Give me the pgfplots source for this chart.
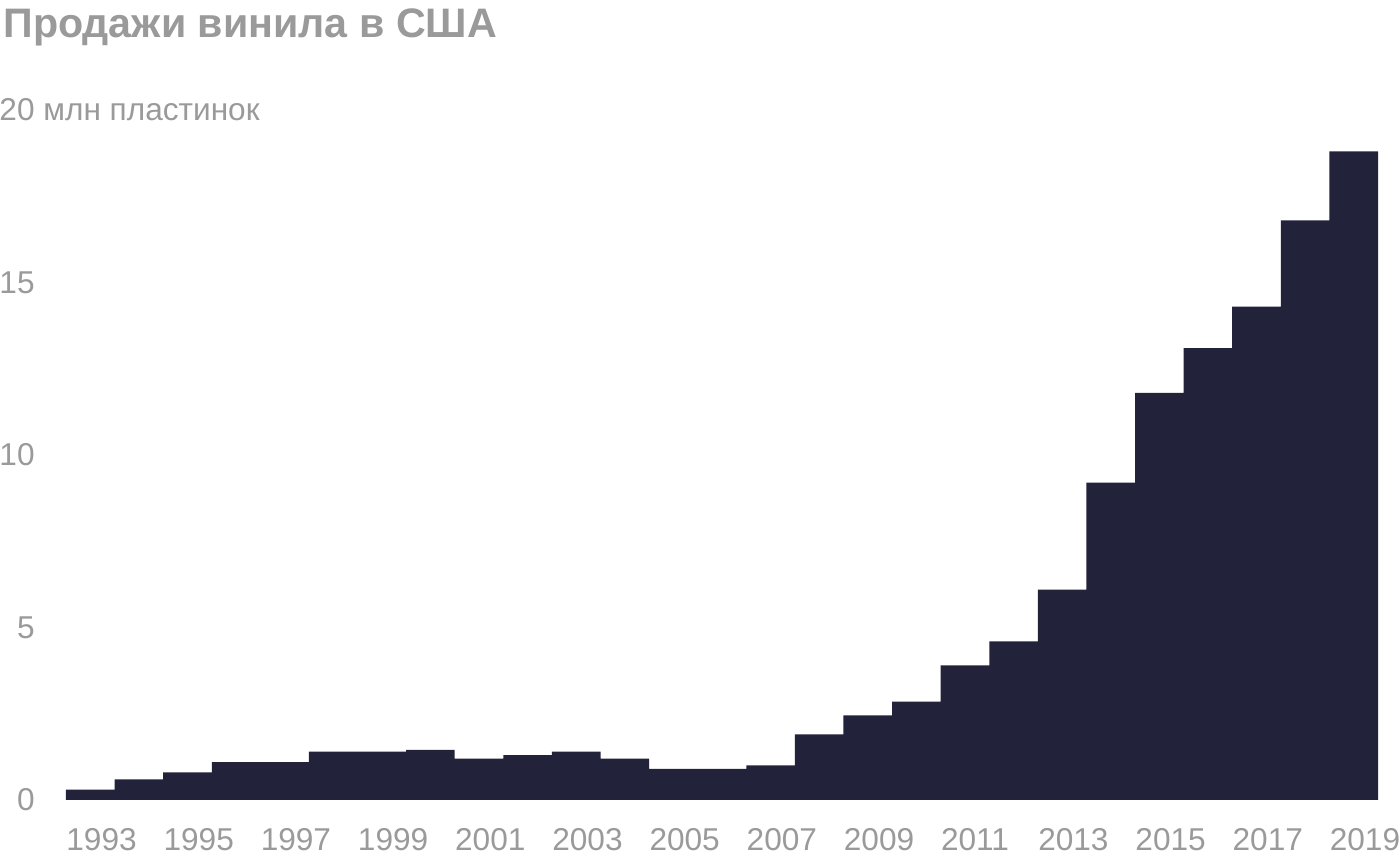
\documentclass[border=0pt]{standalone}
\usepackage{fontspec}
\setmainfont{Liberation Sans}
\usepackage{pgfplots}
\pgfplotsset{compat=1.18}
\definecolor{bar}{HTML}{22223A}
\definecolor{txt}{HTML}{9A9A9A}
\begin{document}
\begin{tikzpicture}
\useasboundingbox (-33pt,-30pt) rectangle (667pt,400pt);
\begin{axis}[
scale only axis,
width=656pt, height=345pt,
xmin=1993, xmax=2020,
ymin=0, ymax=20,
axis line style={draw=none},
major tick length=0pt,
ytick={0,5,10,15,20},
yticklabels={0,5,10,15,20\rlap{ млн пластинок}},
xtick={1993,1995,...,2019},
xticklabels={1993,1995,1997,1999,2001,2003,2005,2007,2009,2011,2013,2015,2017,2019},
/pgf/number format/assume math mode=true,
ticklabel style={font=\fontsize{15.8pt}{18pt}\selectfont, text=txt, inner sep=0pt},
yticklabel style={anchor=east, xshift=-15.5pt},
xticklabel style={anchor=north west, yshift=-14pt},
clip=false,
]
\addplot[const plot, fill=bar, draw=none] coordinates {
(1993,0.3)(1994,0.6)(1995,0.8)(1996,1.1)(1997,1.1)(1998,1.4)(1999,1.4)
(2000,1.45)(2001,1.2)(2002,1.3)(2003,1.4)(2004,1.2)(2005,0.9)(2006,0.9)
(2007,1.0)(2008,1.9)(2009,2.45)(2010,2.85)(2011,3.9)(2012,4.6)(2013,6.1)
(2014,9.2)(2015,11.8)(2016,13.1)(2017,14.3)(2018,16.8)(2019,18.8)(2020,18.8)
} \closedcycle;
\end{axis}
\node[anchor=base west, inner sep=0pt, text=txt, font=\fontsize{20.6pt}{24pt}\selectfont\bfseries] at (-31.5pt,381pt) {Продажи винила в США};
\end{tikzpicture}
\end{document}
